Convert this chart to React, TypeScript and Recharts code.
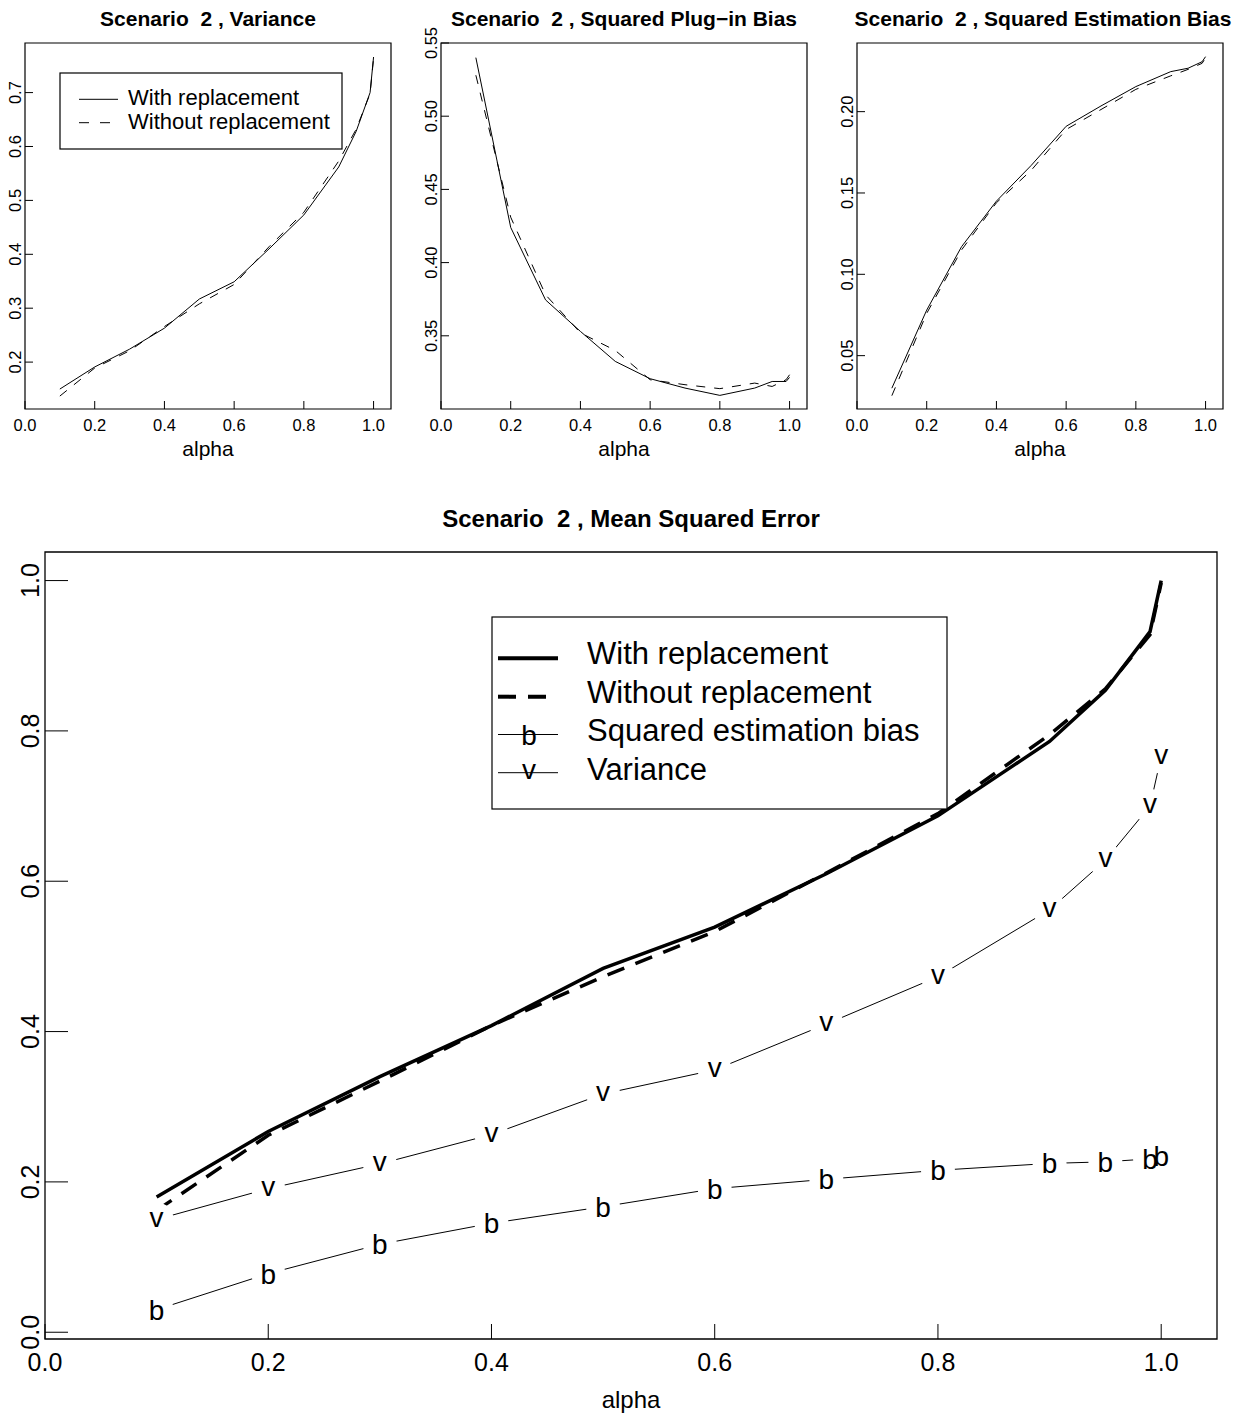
import React from "react";
import { LineChart, Line, XAxis, YAxis, ReferenceArea } from "recharts";

const FONT = '"Liberation Sans", Arial, Helvetica, sans-serif';

// alpha grid used by every panel
const alpha = [0.1, 0.2, 0.3, 0.4, 0.5, 0.6, 0.7, 0.8, 0.9, 0.95, 0.99, 1.0];

// Variance
const varianceWith = [0.15, 0.191, 0.224, 0.263, 0.317, 0.349, 0.41, 0.473, 0.562, 0.628, 0.7, 0.766];
const varianceWithout = [0.137, 0.189, 0.221, 0.266, 0.308, 0.344, 0.414, 0.478, 0.573, 0.632, 0.698, 0.764];

// Squared plug-in bias
const plugInWith = [0.54, 0.424, 0.3745, 0.353, 0.3325, 0.3207, 0.3143, 0.3093, 0.3143, 0.3188, 0.3188, 0.3216];
const plugInWithout = [0.528, 0.431, 0.378, 0.352, 0.34, 0.32, 0.3166, 0.3139, 0.3177, 0.3154, 0.32, 0.3234];

// Squared estimation bias
const estBiasWith = [0.03, 0.078, 0.117, 0.145, 0.167, 0.191, 0.2035, 0.2154, 0.2246, 0.2267, 0.2307, 0.2338];
const estBiasWithout = [0.0254, 0.076, 0.115, 0.144, 0.164, 0.189, 0.2013, 0.2137, 0.222, 0.226, 0.2297, 0.233];

// Mean squared error
const mseWith = [0.18, 0.267, 0.34, 0.408, 0.484, 0.539, 0.61, 0.687, 0.786, 0.854, 0.932, 1.0];
const mseWithout = [0.162, 0.262, 0.334, 0.408, 0.473, 0.533, 0.611, 0.69, 0.795, 0.856, 0.928, 0.997];

const xTicks = [0, 0.2, 0.4, 0.6, 0.8, 1.0];
const varianceTicks = [0.2, 0.3, 0.4, 0.5, 0.6, 0.7];
const plugInTicks = [0.35, 0.4, 0.45, 0.5, 0.55];
const estBiasTicks = [0.05, 0.1, 0.15, 0.2];
const mseTicks = [0, 0.2, 0.4, 0.6, 0.8, 1.0];

const X_DOMAIN: [number, number] = [0, 1.05];

// inward tick + label below the axis
const xTick = (len: number, size: number, dy: number) => (p: any) => (
  <g key={`xt-${p.index}`}>
    <line x1={p.x} x2={p.x} y1={p.y} y2={p.y - len} stroke="#000" strokeWidth={1} />
    <text x={p.x} y={p.y + dy} textAnchor="middle" fontSize={size} fontFamily={FONT} fill="#000">
      {Number(p.payload.value).toFixed(1)}
    </text>
  </g>
);

// inward tick + rotated label left of the axis
const yTick = (len: number, size: number, off: number, digits: number) => (p: any) => {
  const bx = p.x - off;
  return (
    <g key={`yt-${p.index}`}>
      <line x1={p.x} x2={p.x + len} y1={p.y} y2={p.y} stroke="#000" strokeWidth={1} />
      <text
        x={bx}
        y={p.y}
        transform={`rotate(-90 ${bx} ${p.y})`}
        textAnchor="middle"
        fontSize={size}
        fontFamily={FONT}
        fill="#000"
      >
        {Number(p.payload.value).toFixed(digits)}
      </text>
    </g>
  );
};

interface SmallPanelProps {
  left: number;
  width: number;
  yWidth: number;
  right: number;
  yDomain: [number, number];
  yTicks: number[];
  digits: number;
  withVals: number[];
  withoutVals: number[];
}

function SmallPanel({ left, width, yWidth, right, yDomain, yTicks, digits, withVals, withoutVals }: SmallPanelProps) {
  const data = alpha.map((a, i) => ({ alpha: a, withR: withVals[i], withoutR: withoutVals[i] }));
  return (
    <div style={{ position: "absolute", left, top: 0 }}>
      <LineChart width={width} height={470} data={data} margin={{ top: 43, right, bottom: 0, left: 0 }}>
        <XAxis
          type="number"
          dataKey="alpha"
          domain={X_DOMAIN}
          ticks={xTicks}
          interval={0}
          height={61}
          tickSize={0}
          tickMargin={0}
          tickLine={false}
          axisLine={false}
          tick={xTick(8, 16.5, 22)}
          label={{ value: "alpha", position: "insideBottom", offset: 14, fontSize: 21, fill: "#000", fontFamily: FONT }}
        />
        <YAxis
          type="number"
          domain={yDomain}
          ticks={yTicks}
          interval={0}
          width={yWidth}
          tickSize={0}
          tickMargin={0}
          tickLine={false}
          axisLine={false}
          tick={yTick(8, 16.5, 4.3, digits)}
        />
        <ReferenceArea
          x1={X_DOMAIN[0]}
          x2={X_DOMAIN[1]}
          y1={yDomain[0]}
          y2={yDomain[1]}
          fill="none"
          stroke="#000"
          strokeWidth={1.2}
          ifOverflow="visible"
        />
        <Line type="linear" dataKey="withR" stroke="#000" strokeWidth={1} dot={false} activeDot={false} isAnimationActive={false} />
        <Line
          type="linear"
          dataKey="withoutR"
          stroke="#000"
          strokeWidth={1}
          strokeDasharray="9 9"
          dot={false}
          activeDot={false}
          isAnimationActive={false}
        />
      </LineChart>
    </div>
  );
}

const gapDot = (p: any) => <circle key={`gap-${p.index}`} cx={p.cx} cy={p.cy} r={17} fill="#fff" stroke="none" />;

const letterDot = (ch: string, dy: number) => (p: any) => (
  <text key={`${ch}-${p.index}`} x={p.cx} y={p.cy} dy={dy} textAnchor="middle" fontSize={28} fontFamily={FONT} fill="#000">
    {ch}
  </text>
);

function MsePanel() {
  const data = alpha.map((a, i) => ({
    alpha: a,
    withR: mseWith[i],
    withoutR: mseWithout[i],
    bias: estBiasWith[i],
    variance: varianceWith[i],
  }));
  const yDomain: [number, number] = [-0.009, 1.038];
  return (
    <div style={{ position: "absolute", left: 0, top: 500 }}>
      <LineChart width={1237} height={916} data={data} margin={{ top: 52, right: 20, bottom: 0, left: 0 }}>
        <XAxis
          type="number"
          dataKey="alpha"
          domain={X_DOMAIN}
          ticks={xTicks}
          interval={0}
          height={77}
          tickSize={0}
          tickMargin={0}
          tickLine={false}
          axisLine={false}
          tick={xTick(15, 25, 32)}
          label={{ value: "alpha", position: "insideBottom", offset: 8, fontSize: 24, fill: "#000", fontFamily: FONT }}
        />
        <YAxis
          type="number"
          domain={yDomain}
          ticks={mseTicks}
          interval={0}
          width={45}
          tickSize={0}
          tickMargin={0}
          tickLine={false}
          axisLine={false}
          tick={yTick(23, 25, 6, 1)}
        />
        <ReferenceArea
          x1={X_DOMAIN[0]}
          x2={X_DOMAIN[1]}
          y1={yDomain[0]}
          y2={yDomain[1]}
          fill="none"
          stroke="#000"
          strokeWidth={1.3}
          ifOverflow="visible"
        />
        {/* thin lines with gaps round the symbols (type = "b") */}
        <Line type="linear" dataKey="bias" stroke="#000" strokeWidth={1} dot={gapDot} activeDot={false} isAnimationActive={false} />
        <Line type="linear" dataKey="variance" stroke="#000" strokeWidth={1} dot={gapDot} activeDot={false} isAnimationActive={false} />
        {/* MSE curves */}
        <Line type="linear" dataKey="withR" stroke="#000" strokeWidth={3.5} dot={false} activeDot={false} isAnimationActive={false} />
        <Line
          type="linear"
          dataKey="withoutR"
          stroke="#000"
          strokeWidth={3.5}
          strokeDasharray="18 12"
          dot={false}
          activeDot={false}
          isAnimationActive={false}
        />
        {/* plotting characters */}
        <Line type="linear" dataKey="bias" stroke="none" dot={letterDot("b", 10)} activeDot={false} isAnimationActive={false} />
        <Line type="linear" dataKey="variance" stroke="none" dot={letterDot("v", 7.3)} activeDot={false} isAnimationActive={false} />
      </LineChart>
    </div>
  );
}

function Overlay() {
  const title = { fontFamily: FONT, fontWeight: 700, fill: "#000", textAnchor: "middle" as const };
  const txt = { fontFamily: FONT, fill: "#000" };
  return (
    <svg width={1237} height={1416} style={{ position: "absolute", left: 0, top: 0, pointerEvents: "none" }}>
      <text x={208} y={26} fontSize={21} {...title}>{"Scenario\u00a0 2 , Variance"}</text>
      <text x={624} y={26} fontSize={21} {...title}>{"Scenario\u00a0 2 , Squared Plug\u2212in Bias"}</text>
      <text x={1043} y={26} fontSize={21} {...title}>{"Scenario\u00a0 2 , Squared Estimation Bias"}</text>
      <text x={631} y={526.5} fontSize={24} {...title}>{"Scenario\u00a0 2 , Mean Squared Error"}</text>

      {/* small legend */}
      <rect x={60} y={73} width={282} height={76} fill="#fff" stroke="#000" strokeWidth={1.2} />
      <line x1={79} x2={118} y1={99.3} y2={99.3} stroke="#000" strokeWidth={1} />
      <line x1={79} x2={118} y1={122.7} y2={122.7} stroke="#000" strokeWidth={1} strokeDasharray="10 11" />
      <text x={128} y={105} fontSize={22} {...txt}>With replacement</text>
      <text x={128} y={129.3} fontSize={22} {...txt}>Without replacement</text>

      {/* MSE legend */}
      <rect x={492} y={617} width={455} height={192} fill="#fff" stroke="#000" strokeWidth={1.2} />
      <line x1={498} x2={558} y1={658.3} y2={658.3} stroke="#000" strokeWidth={4} />
      <line x1={498} x2={558} y1={696.7} y2={696.7} stroke="#000" strokeWidth={4} strokeDasharray="18 12" />
      <line x1={498} x2={558} y1={734.5} y2={734.5} stroke="#000" strokeWidth={1} />
      <text x={529} y={745} fontSize={28} textAnchor="middle" {...txt}>b</text>
      <line x1={498} x2={558} y1={772.7} y2={772.7} stroke="#000" strokeWidth={1} />
      <text x={529} y={779} fontSize={28} textAnchor="middle" {...txt}>v</text>
      <text x={587} y={664.3} fontSize={31} {...txt}>With replacement</text>
      <text x={587} y={702.7} fontSize={31} {...txt}>Without replacement</text>
      <text x={587} y={741.3} fontSize={31} {...txt}>Squared estimation bias</text>
      <text x={587} y={780} fontSize={31} {...txt}>Variance</text>
    </svg>
  );
}

export default function App() {
  return (
    <div style={{ position: "absolute", left: 0, top: 0, width: 1237, height: 1416, background: "#fff" }}>
      <SmallPanel
        left={0}
        width={410}
        yWidth={25}
        right={19}
        yDomain={[0.113, 0.792]}
        yTicks={varianceTicks}
        digits={1}
        withVals={varianceWith}
        withoutVals={varianceWithout}
      />
      <SmallPanel
        left={410}
        width={410}
        yWidth={31}
        right={13}
        yDomain={[0.3, 0.55]}
        yTicks={plugInTicks}
        digits={2}
        withVals={plugInWith}
        withoutVals={plugInWithout}
      />
      <SmallPanel
        left={820}
        width={417}
        yWidth={37}
        right={14}
        yDomain={[0.0172, 0.2422]}
        yTicks={estBiasTicks}
        digits={2}
        withVals={estBiasWith}
        withoutVals={estBiasWithout}
      />
      <MsePanel />
      <Overlay />
    </div>
  );
}
